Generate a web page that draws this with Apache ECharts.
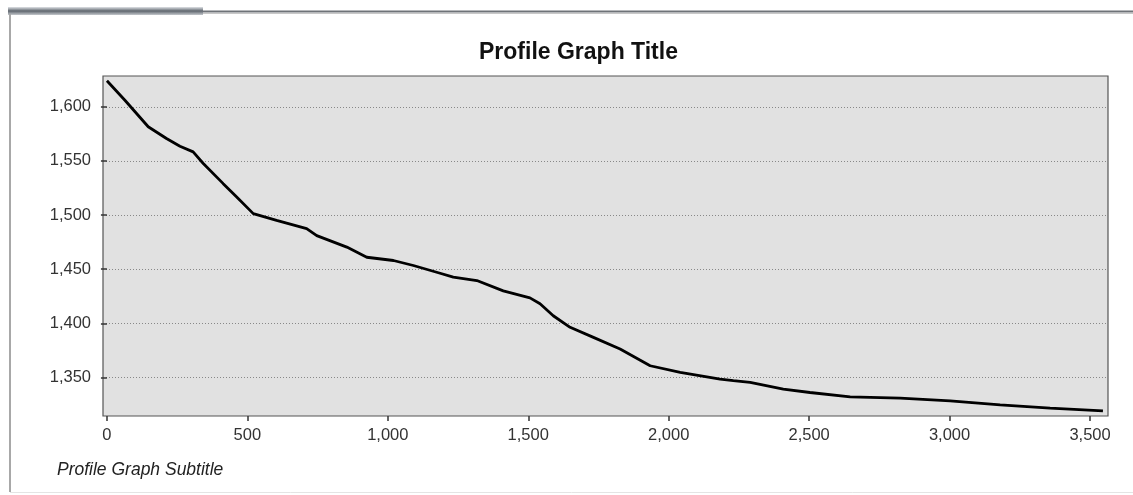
<!DOCTYPE html>
<html><head><meta charset="utf-8">
<script src="https://cdn.jsdelivr.net/npm/echarts@6/dist/echarts.min.js"></script>
<style>html,body{margin:0;padding:0;background:#fff;}#c{width:1133px;height:495px;}</style>
</head><body><div id="c"></div>
<script>
const distance = [0, 5, 64, 147, 212, 260, 307, 343, 414, 462, 521, 604, 711, 747, 854, 925, 1020, 1091, 1180, 1233, 1317, 1411, 1506, 1542, 1589, 1649, 1732, 1827, 1934, 2041, 2183, 2230, 2290, 2408, 2503, 2646, 2824, 3002, 3180, 3358, 3546];
const elevation = [1624, 1623, 1606, 1581.5, 1570.7, 1563.6, 1558.3, 1547.6, 1529, 1516.7, 1501.3, 1495, 1487.4, 1481, 1470.4, 1461, 1458, 1453.4, 1446.7, 1442.6, 1439.5, 1430, 1423.5, 1418, 1407, 1396.3, 1387, 1376.3, 1360.8, 1354.6, 1348.5, 1347, 1345.4, 1339.3, 1336.1, 1332.1, 1330.9, 1328.4, 1324.7, 1321.7, 1319.2];
const xTicks = [0, 500, 1000, 1500, 2000, 2500, 3000, 3500];
const yTicks = [1350, 1400, 1450, 1500, 1550, 1600];
const titleText = 'Profile Graph Title';
const subtitleText = 'Profile Graph Subtitle';

const fmt = v => Number(v).toLocaleString('en-US');
const chart = echarts.init(document.getElementById('c'), null, {renderer: 'canvas'});
const font = 'Liberation Sans, Arial, sans-serif';
chart.setOption({
  animation: false,
  backgroundColor: '#fff',
  graphic: [
    {type: 'rect', shape: {x: 8, y: 7, width: 195, height: 8},
      style: {fill: new echarts.graphic.LinearGradient(0, 0, 0, 1, [
        {offset: 0, color: '#dfe2e6'}, {offset: 0.5, color: '#5f666e'}, {offset: 1, color: '#c4c8cc'}])}},
    {type: 'line', shape: {x1: 203, y1: 11.5, x2: 1133, y2: 11.5}, style: {stroke: '#6f7378', lineWidth: 2}},
    {type: 'line', shape: {x1: 203, y1: 13.5, x2: 1133, y2: 13.5}, style: {stroke: '#c8c8c8', lineWidth: 1}},
    {type: 'line', shape: {x1: 10, y1: 14, x2: 10, y2: 492}, style: {stroke: '#a8a8a8', lineWidth: 2}},
    {type: 'line', shape: {x1: 10, y1: 492.5, x2: 1133, y2: 492.5}, style: {stroke: '#e4e4e4', lineWidth: 1}}
  ],
  title: [
    {text: titleText, left: 474, top: 36, textStyle: {fontFamily: font, fontSize: 23, fontWeight: 'bold', color: '#111'}},
    {text: subtitleText, left: 52, top: 456, textStyle: {fontFamily: font, fontSize: 17.5, fontStyle: 'italic', fontWeight: 'normal', color: '#222'}}
  ],
  grid: {left: 103, right: 25, top: 76, bottom: 79, show: true, backgroundColor: '#e1e1e1', borderColor: '#555', borderWidth: 1.2},
  xAxis: {
    type: 'value', min: -14, max: 3564,
    axisLine: {show: false},
    axisTick: {show: true, length: 5, customValues: xTicks, lineStyle: {color: '#333', width: 1.5}},
    axisLabel: {customValues: xTicks, formatter: fmt, margin: 11, fontFamily: font, fontSize: 16.5, color: '#333'},
    splitLine: {show: false}
  },
  yAxis: {
    type: 'value', min: 1314.4, max: 1628.4,
    axisLine: {show: false},
    axisTick: {show: true, length: 6, customValues: yTicks, lineStyle: {color: '#333', width: 1.5}},
    axisLabel: {customValues: yTicks, formatter: fmt, margin: 12, fontFamily: font, fontSize: 16.5, color: '#333'},
    splitLine: {show: true, lineStyle: {color: '#888', type: [1, 2], width: 1}}
  },
  series: [{
    type: 'line', data: distance.map((d, i) => [d, elevation[i]]),
    showSymbol: false, smooth: false,
    lineStyle: {color: '#000', width: 2.8}
  }]
});
</script></body></html>
